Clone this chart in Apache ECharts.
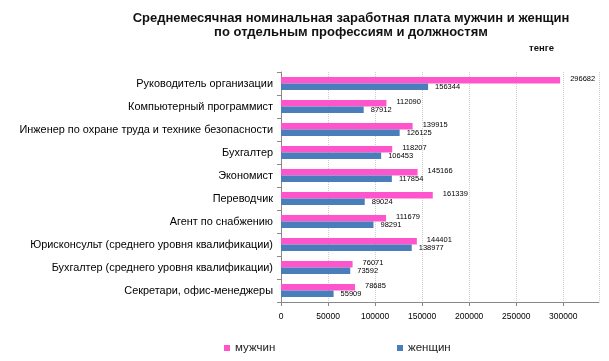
<!DOCTYPE html>
<html><head><meta charset="utf-8">
<script src="https://cdn.jsdelivr.net/npm/echarts@6/dist/echarts.min.js"></script>
<style>html,body{margin:0;padding:0;background:#fff}#c{width:609px;height:361px}</style>
</head><body><div id="c"></div>
<script>
const categories = ["Руководитель организации","Компьютерный программист","Инженер по охране труда и технике безопасности","Бухгалтер","Экономист","Переводчик","Агент по снабжению","Юрисконсульт (среднего уровня квалификации)","Бухгалтер (среднего уровня квалификации)","Секретари, офис-менеджеры"];
const men = [296682,112090,139915,118207,145166,161339,111679,144401,76071,78685];
const women = [156344,87912,126125,106453,117854,89024,98291,138977,73592,55909];
const seriesNames = ["мужчин","женщин"];
const titleText = "Среднемесячная номинальная заработная плата мужчин и женщин\nпо отдельным профессиям и должностям";
const unitText = "тенге";

const FF = 'Liberation Sans, Arial, sans-serif';
const chart = echarts.init(document.getElementById('c'));
const lbl = {show:true, position:'right', fontSize:7.5, color:'#000', fontFamily:FF};
const legendText = {fontSize:11.5, color:'#222', fontFamily:FF};
chart.setOption({
  animation:false,
  title:[{text:titleText, left:346, textAlign:'center', top:6, textStyle:{fontSize:13, fontWeight:'bold', color:'#111', lineHeight:14, fontFamily:FF}},
         {text:unitText, left:524, top:38, textStyle:{fontSize:9.5, fontWeight:'bold', color:'#111', fontFamily:FF}}],
  legend:[
    {data:[seriesNames[0]], top:337, left:219, itemWidth:6, itemHeight:6, itemGap:0, icon:'rect', textStyle:legendText},
    {data:[seriesNames[1]], top:337, left:392, itemWidth:6, itemHeight:6, itemGap:0, icon:'rect', textStyle:legendText}
  ],
  grid:{left:281, right:10, top:72, height:230},
  xAxis:{type:'value', min:0, max:338000, interval:50000,
    axisLine:{show:true, lineStyle:{color:'#888'}},
    axisTick:{show:true, length:4, lineStyle:{color:'#888'}},
    axisLabel:{fontSize:8.5, color:'#000', margin:10, showMaxLabel:false, fontFamily:FF, formatter:v=>String(v)},
    splitLine:{show:true, lineStyle:{color:'#ccc', type:'dotted'}}},
  yAxis:{type:'category', data:categories, inverse:true,
    axisLine:{show:true, lineStyle:{color:'#888'}},
    axisTick:{show:true, length:4, lineStyle:{color:'#888'}},
    axisLabel:{fontSize:10.9, color:'#000', margin:8, fontFamily:FF}},
  series:[
    {name:seriesNames[0], type:'bar', data:men, barGap:'0%', barCategoryGap:'44%', itemStyle:{color:'#FF55CC'}, label:Object.assign({distance:10, offset:[0,-1]}, lbl)},
    {name:seriesNames[1], type:'bar', data:women, itemStyle:{color:'#4A7EBB'}, label:Object.assign({distance:7}, lbl)}
  ]
});
</script></body></html>
